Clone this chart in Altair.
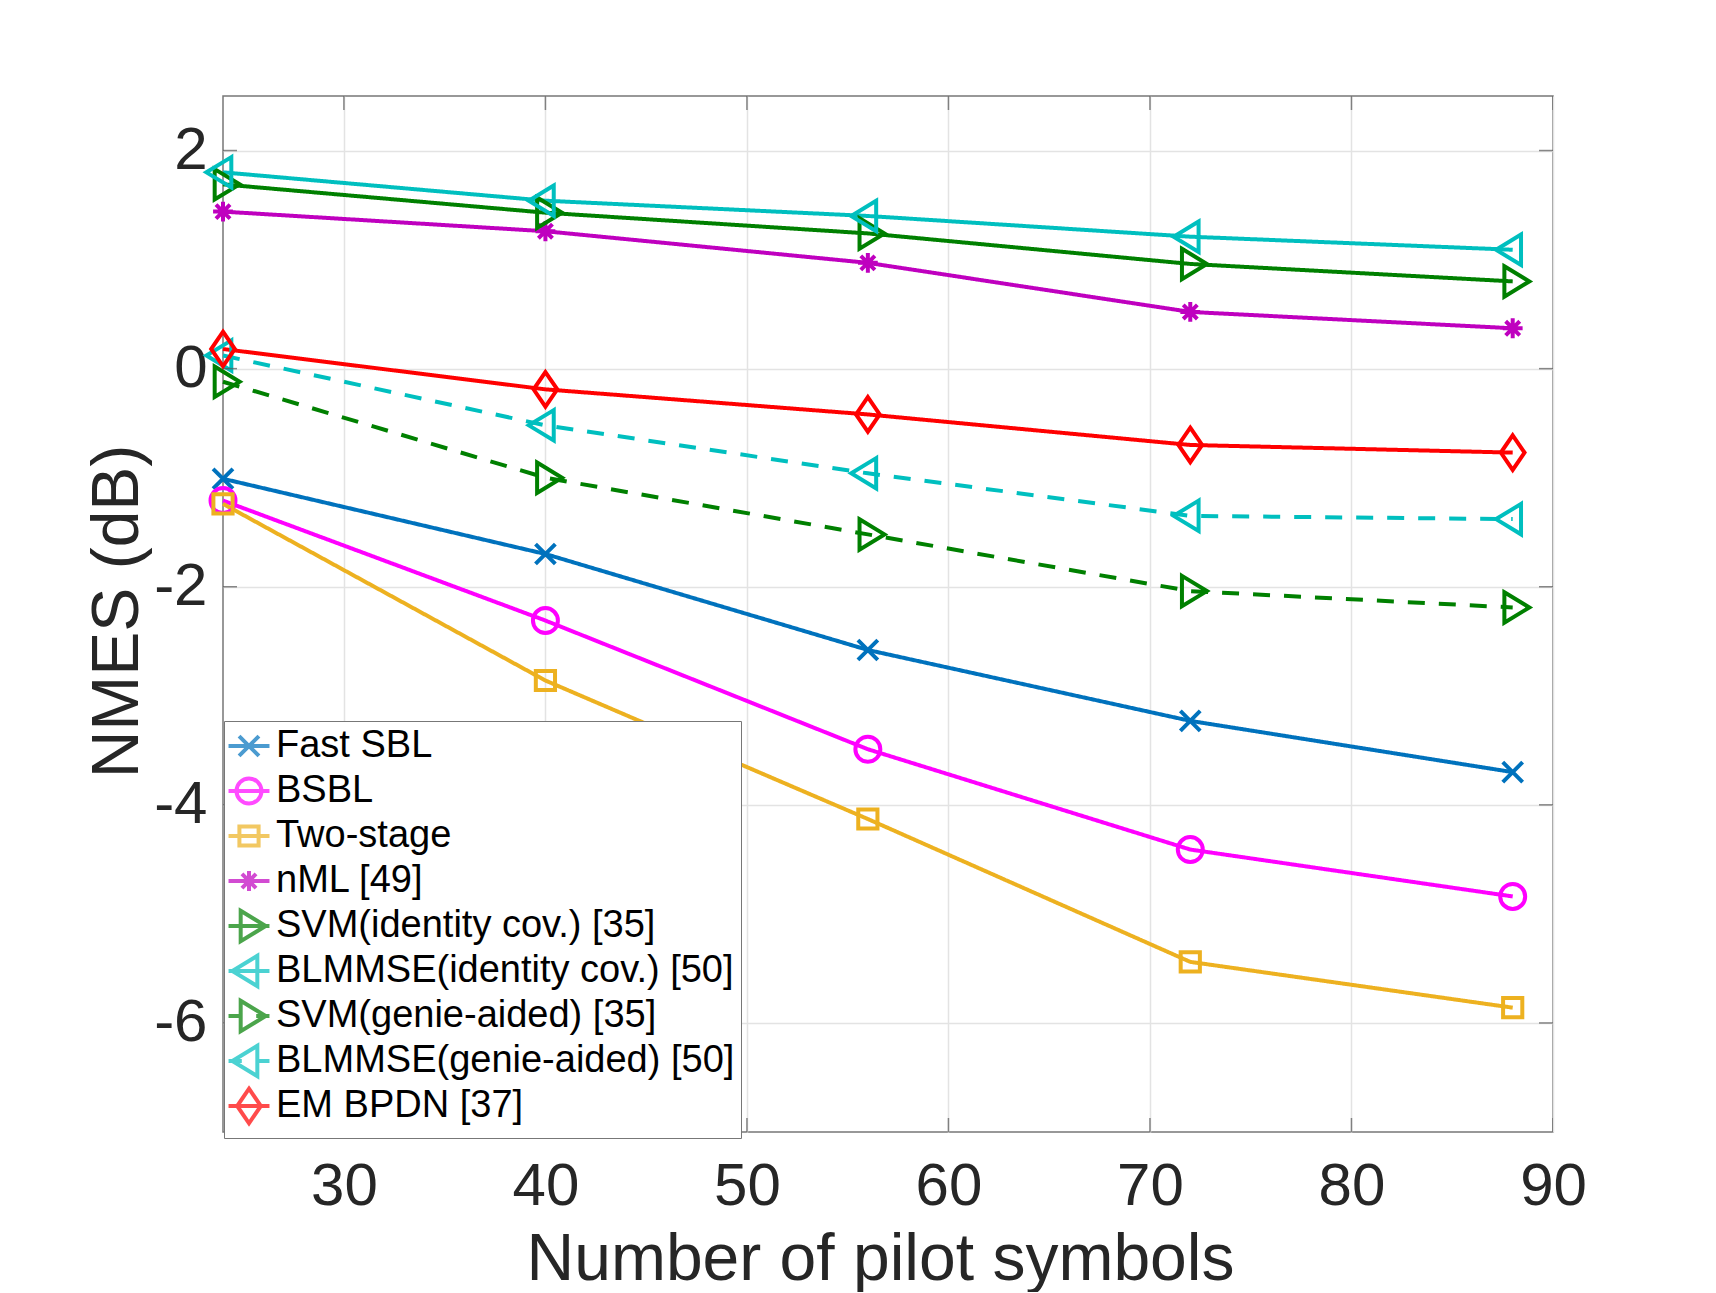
import altair as alt
import pandas as pd

# ---------------- data ----------------
x_vals = [24, 40, 56, 72, 88]

series_names = [
    "Fast SBL",
    "BSBL",
    "Two-stage",
    "nML [49]",
    "SVM(identity cov.) [35]",
    "BLMMSE(identity cov.) [50]",
    "SVM(genie-aided) [35]",
    "BLMMSE(genie-aided) [50]",
    "EM BPDN [37]",
]

fast_sbl = [-1.01, -1.70, -2.58, -3.23, -3.70]
bsbl = [-1.21, -2.31, -3.49, -4.41, -4.84]
two_stage = [-1.24, -2.86, -4.13, -5.44, -5.86]
nml = [1.44, 1.26, 0.97, 0.52, 0.37]
svm_identity = [1.69, 1.43, 1.24, 0.96, 0.80]
blmmse_identity = [1.80, 1.54, 1.40, 1.21, 1.09]
svm_genie = [-0.12, -1.00, -1.52, -2.04, -2.19]
blmmse_genie = [0.12, -0.52, -0.96, -1.35, -1.38]
em_bpdn = [0.18, -0.19, -0.42, -0.70, -0.77]

series_values = [fast_sbl, bsbl, two_stage, nml, svm_identity,
                 blmmse_identity, svm_genie, blmmse_genie, em_bpdn]

x_ticks = [30, 40, 50, 60, 70, 80, 90]
y_ticks = [-6, -4, -2, 0, 2]

# ---------------- styles ----------------
colors = ["#0072BD", "#FF00FF", "#EDB120", "#BF00BF", "#008000",
          "#00BFBF", "#008000", "#00BFBF", "#FF0000"]
dashed = [False, False, False, False, False, False, True, True, False]

XMARK = "M-0.62,-0.62L0.62,0.62M-0.62,0.62L0.62,-0.62"
CIRCLE = ("M0.78,0C0.78,0.4308,0.4308,0.78,0,0.78C-0.4308,0.78,-0.78,0.4308,-0.78,0"
          "C-0.78,-0.4308,-0.4308,-0.78,0,-0.78C0.4308,-0.78,0.78,-0.4308,0.78,0Z")
SQUARE = "M-0.6,-0.6H0.6V0.6H-0.6Z"
ASTER = "M-0.62,0H0.62M0,-0.62V0.62M-0.44,-0.44L0.44,0.44M-0.44,0.44L0.44,-0.44"
TRI_R = "M-0.52,-0.95L1.04,0L-0.52,0.95Z"
TRI_L = "M0.52,-0.95L-1.04,0L0.52,0.95Z"
DIAMOND = "M0,-1.08L0.74,0L0,1.08L-0.74,0Z"

markers = [XMARK, CIRCLE, SQUARE, ASTER, TRI_R, TRI_L, TRI_R, TRI_L, DIAMOND]
SOLID_SEG = "M0,-1.1M0,1.1M-1.28,0H1.28"
DASH_SEG = "M0,-1.1M0,1.1M-1.28,0H-0.45M0.45,0H1.28"
legend_paths = [(DASH_SEG if d else SOLID_SEG) + m for m, d in zip(markers, dashed)]
dash_list = [[17, 14] if d else [1, 0] for d in dashed]

rows = []
for name, vals in zip(series_names, series_values):
    for xv, yv in zip(x_vals, vals):
        rows.append({"x": xv, "y": yv, "series": name})
df = pd.DataFrame(rows)

FONT = "Liberation Sans"
TXT = "#262626"
GRID = "#e3e3e3"
LW = 4

xs = alt.Scale(domain=[24, 90], nice=False, zero=False)
ys = alt.Scale(domain=[-7, 2.5], nice=False, zero=False)

x_axis = alt.Axis(
    values=x_ticks, title="Number of pilot symbols", grid=True, gridColor=GRID,
    gridWidth=1.5, domain=False, ticks=False, tickSize=0,
    labelFont=FONT, labelFontSize=60, labelColor=TXT, labelPadding=72,
    labelBaseline="alphabetic", labelFlush=False, labelOverlap=False,
    labelExpr="'' + datum.value",
    titleFont=FONT, titleFontSize=66, titleFontWeight="normal", titleColor=TXT,
    titleBaseline="alphabetic", titleX=657, titleY=147,
)
y_axis = alt.Axis(
    values=y_ticks, title="NMES (dB)", grid=True, gridColor=GRID,
    gridWidth=1.5, domain=False, ticks=False, tickSize=0,
    labelFont=FONT, labelFontSize=60, labelColor=TXT, labelPadding=16,
    labelBaseline="middle", labelAlign="right", labelFlush=False,
    labelOverlap=False, labelExpr="'' + datum.value",
    titleFont=FONT, titleFontSize=66, titleFontWeight="normal", titleColor=TXT,
    titleAngle=270, titleBaseline="alphabetic", titleAlign="center",
    titleX=-86, titleY=515,
)

base = alt.Chart(df).encode(
    x=alt.X("x:Q", scale=xs, axis=x_axis),
    y=alt.Y("y:Q", scale=ys, axis=y_axis),
)

color_scale = alt.Scale(domain=series_names, range=colors)

lines = base.mark_line(strokeWidth=LW).encode(
    color=alt.Color("series:N", scale=color_scale, legend=None),
    strokeDash=alt.StrokeDash("series:N",
                              scale=alt.Scale(domain=series_names, range=dash_list),
                              legend=None),
)

points = base.mark_point(filled=False, strokeWidth=LW, size=1024, opacity=1).encode(
    color=alt.Color("series:N", scale=color_scale, legend=None),
    shape=alt.Shape("series:N", scale=alt.Scale(domain=series_names, range=markers),
                    legend=None),
)

leg_def = alt.Legend(
    title=None, orient="none", legendX=1, legendY=625, padding=6,
    fillColor="white", strokeColor="#777777", direction="vertical",
    labelFont=FONT, labelFontSize=38, labelColor="black", labelOffset=8,
    labelLimit=800, rowPadding=-8, symbolSize=1024, symbolStrokeWidth=LW,
    labelExpr="datum.label == 'BLMMSE(genie-aided) [50]' ? '\u00a0' + datum.label : datum.label",
)

legend_layer = base.mark_point(filled=False, strokeWidth=LW, size=1024).transform_filter(
    "datum.x < 0"
).encode(
    color=alt.Color("series:N", scale=color_scale, legend=leg_def),
    shape=alt.Shape("series:N", scale=alt.Scale(domain=series_names, range=legend_paths),
                    legend=leg_def),
)

xt = pd.DataFrame({"v": x_ticks})
yt = pd.DataFrame({"v": y_ticks})
TICK = "#555555"

tick_bottom = alt.Chart(xt).mark_tick(orient="vertical", size=28, thickness=1.5,
                                      color=TICK, clip=True).encode(
    x=alt.X("v:Q", scale=xs, axis=x_axis),
    y=alt.YDatum(datum=-7, type="quantitative", scale=ys, axis=y_axis),
)
tick_top = alt.Chart(xt).mark_tick(orient="vertical", size=28, thickness=1.5,
                                   color=TICK, clip=True).encode(
    x=alt.X("v:Q", scale=xs, axis=x_axis),
    y=alt.YDatum(datum=2.5, type="quantitative", scale=ys, axis=y_axis),
)
tick_left = alt.Chart(yt).mark_tick(orient="horizontal", size=28, thickness=1.5,
                                    color=TICK, clip=True).encode(
    y=alt.Y("v:Q", scale=ys, axis=y_axis),
    x=alt.XDatum(datum=24, type="quantitative", scale=xs, axis=x_axis),
)
tick_right = alt.Chart(yt).mark_tick(orient="horizontal", size=28, thickness=1.5,
                                     color=TICK, clip=True).encode(
    y=alt.Y("v:Q", scale=ys, axis=y_axis),
    x=alt.XDatum(datum=90, type="quantitative", scale=xs, axis=x_axis),
)

chart = alt.layer(
    lines, points, tick_bottom, tick_top, tick_left, tick_right, legend_layer
).resolve_scale(
    color="independent", shape="independent", strokeDash="independent"
).properties(
    width=1330, height=1036,
    autosize=alt.AutoSizeParams(type="none"),
    padding={"left": 215, "top": 88, "right": 140, "bottom": 160},
    background="white",
).configure_view(
    stroke="#777777", strokeWidth=1.5
)

chart.save("out.html", embed_options={"renderer": "svg", "actions": False})
